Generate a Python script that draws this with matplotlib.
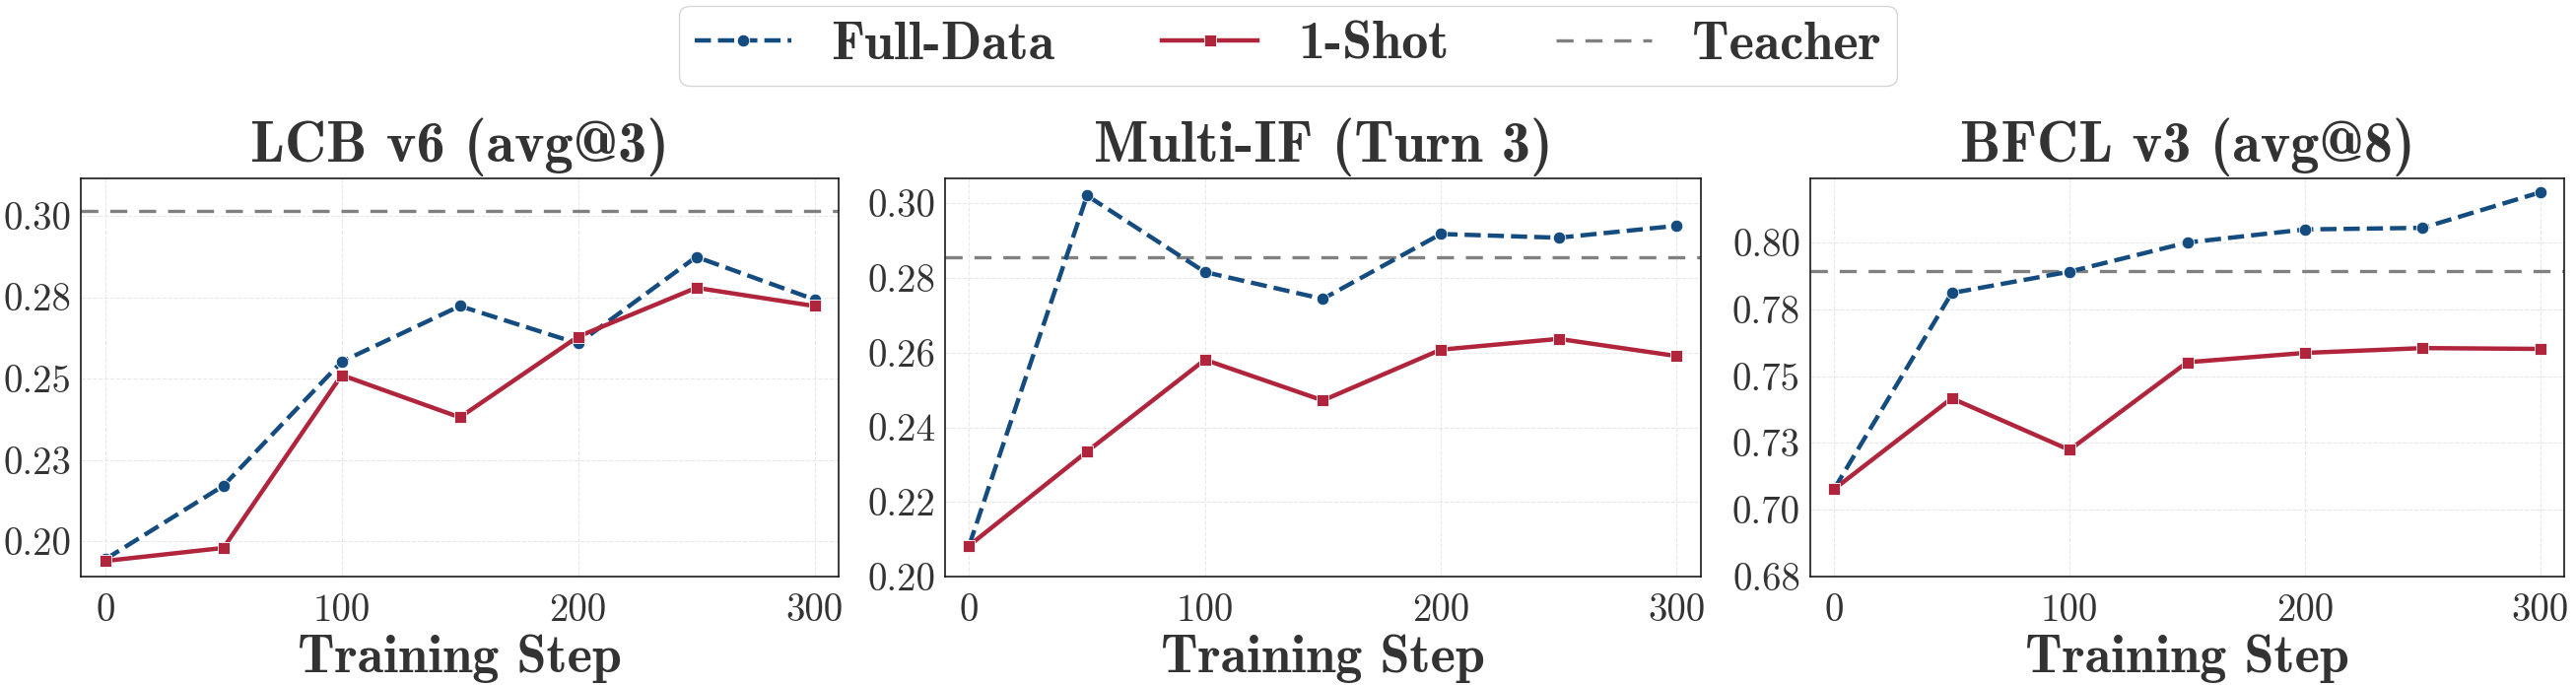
import matplotlib
matplotlib.use("Agg")
import matplotlib.pyplot as plt

# training steps shared by all panels
steps = [0, 50, 100, 150, 200, 250, 300]

titles = ["LCB v6 (avg@3)", "Multi-IF (Turn 3)", "BFCL v3 (avg@8)"]

lcb_full = [0.1945, 0.2171, 0.2552, 0.2723, 0.2608, 0.2874, 0.2743]
lcb_shot = [0.1940, 0.1980, 0.2511, 0.2381, 0.2629, 0.2779, 0.2723]
lcb_teacher = 0.3016

mif_full = [0.2083, 0.3021, 0.2816, 0.2744, 0.2918, 0.2908, 0.2940]
mif_shot = [0.2083, 0.2335, 0.2581, 0.2472, 0.2608, 0.2637, 0.2591]
mif_teacher = 0.2857

bfcl_full = [0.7077, 0.7811, 0.7891, 0.8000, 0.8049, 0.8055, 0.8188]
bfcl_shot = [0.7077, 0.7417, 0.7224, 0.7552, 0.7587, 0.7605, 0.7602]
bfcl_teacher = 0.7895

y_ticks = [
    [0.200, 0.225, 0.250, 0.275, 0.300],
    [0.20, 0.22, 0.24, 0.26, 0.28, 0.30],
    [0.675, 0.700, 0.725, 0.750, 0.775, 0.800],
]
y_ticklabels = [
    ["0.20", "0.23", "0.25", "0.28", "0.30"],
    ["0.20", "0.22", "0.24", "0.26", "0.28", "0.30"],
    ["0.68", "0.70", "0.73", "0.75", "0.78", "0.80"],
]
y_limits = [(0.1892, 0.3115), (0.200, 0.3067), (0.675, 0.824)]
x_ticks = [0, 100, 200, 300]

full_data = [lcb_full, mif_full, bfcl_full]
one_shot = [lcb_shot, mif_shot, bfcl_shot]
teachers = [lcb_teacher, mif_teacher, bfcl_teacher]

BLUE = "#154c80"
RED = "#b0243c"
GRAY = "#808080"
TXT = "#333333"

plt.rcParams["axes.formatter.use_mathtext"] = True
REG = ["cmr10", "DejaVu Serif"]
BOLD = ["cmb10", "DejaVu Serif"]

W, H = 2614, 695
fig = plt.figure(figsize=(W / 100, H / 100), dpi=100)

# axes boxes in pixels: (left, right), shared top/bottom
boxes = [(82.3, 851.0), (959.0, 1725.7), (1836.7, 2602.3)]
top_px, bot_px = 181, 585

handles = None
for i in range(3):
    l, r = boxes[i]
    ax = fig.add_axes([l / W, 1 - bot_px / H, (r - l) / W, (bot_px - top_px) / H])
    ax.grid(True, color="#e8e8e8", linestyle="--", linewidth=0.8)
    ax.set_axisbelow(True)

    h1, = ax.plot(steps, full_data[i], color=BLUE, linestyle="--", linewidth=3.2,
                  marker="o", markersize=9, markeredgecolor="white",
                  markeredgewidth=0.6, label="Full-Data", zorder=3)
    h2, = ax.plot(steps, one_shot[i], color=RED, linestyle="-", linewidth=3.2,
                  marker="s", markersize=9, markeredgecolor="white",
                  markeredgewidth=0.6, label="1-Shot", zorder=3)
    h3 = ax.axhline(teachers[i], color=GRAY, linewidth=2.4, dashes=(5.2, 3.6),
                    label="Teacher", zorder=2)
    if handles is None:
        handles = [h1, h2, h3]

    ax.set_xlim(-10.2, 310.2)
    ax.set_ylim(*y_limits[i])
    ax.set_xticks(x_ticks)
    ax.set_xticklabels([str(v) for v in x_ticks], family=REG, fontsize=28, color=TXT)
    ax.set_yticks(y_ticks[i])
    ax.set_yticklabels(y_ticklabels[i], family=REG, fontsize=28, color=TXT)
    ax.tick_params(length=0)
    ax.tick_params(axis="x", pad=12)
    ax.tick_params(axis="y", pad=7)

    ax.set_title(titles[i], family=BOLD, fontsize=42, color=TXT, pad=12)
    ax.set_xlabel("Training Step", family=BOLD, fontsize=39, color=TXT, labelpad=4)

    for s in ax.spines.values():
        s.set_color("#1a1a1a")
        s.set_linewidth(1.2)

leg = fig.legend(handles=handles, loc="upper center", bbox_to_anchor=(0.5, 0.992),
                 ncol=3, frameon=True, fancybox=True, handlelength=1.8,
                 handletextpad=0.75, columnspacing=2.0, borderpad=0.3,
                 borderaxespad=0.0, prop={"family": BOLD, "size": 39})
leg.get_frame().set_edgecolor("#cccccc")
leg.get_frame().set_linewidth(1.0)
for t in leg.get_texts():
    t.set_color(TXT)

fig.savefig("out.png", dpi=100)
